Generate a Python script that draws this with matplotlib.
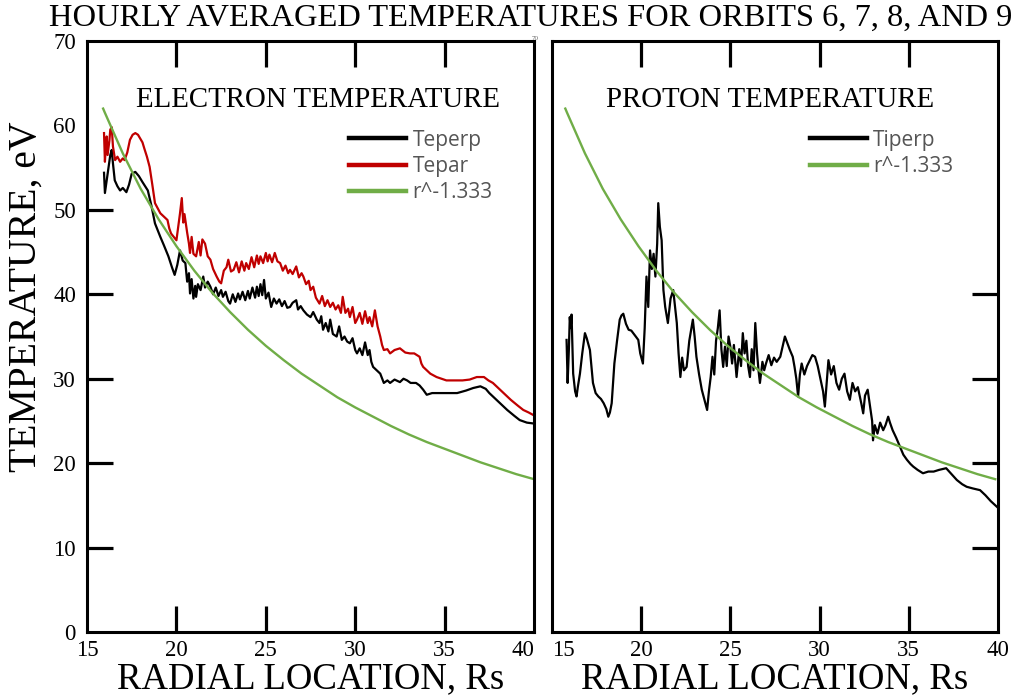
import matplotlib.pyplot as plt

# electron temperature, Teperp (black)
te_perp_r = [15.95, 16.0, 16.1, 16.2, 16.3, 16.38, 16.45, 16.55, 16.7, 16.85, 17.0, 17.2, 17.35, 17.5, 17.7,
             17.9, 18.1, 18.4, 18.6, 18.8, 19.1, 19.3, 19.55, 19.75, 19.9, 20.05, 20.2, 20.35, 20.5, 20.6,
             20.7, 20.76, 20.85, 20.95, 21.05, 21.1, 21.2, 21.35, 21.5, 21.6, 21.75, 21.9, 22.05, 22.2, 22.35,
             22.5, 22.6, 22.75, 22.9, 23.0, 23.15, 23.3, 23.45, 23.55, 23.7, 23.85, 24.0, 24.1, 24.25, 24.4,
             24.5, 24.6, 24.7, 24.8, 24.9, 25.0, 25.15, 25.3, 25.45, 25.6, 25.75, 25.9, 26.05, 26.2, 26.35,
             26.5, 26.7, 26.8, 26.95, 27.1, 27.3, 27.5, 27.65, 27.85, 28.0, 28.1, 28.2, 28.35, 28.5, 28.6,
             28.75, 28.96, 29.1, 29.25, 29.4, 29.55, 29.7, 29.85, 30.0, 30.1, 30.25, 30.4, 30.55, 30.7, 30.8,
             30.9, 31.0, 31.2, 31.4, 31.6, 31.8, 31.95, 32.2, 32.5, 32.7, 32.9, 33.1, 33.4, 33.6, 33.8,
             34.0, 34.3, 34.7, 35.2, 35.7, 36.2, 36.6, 37.0, 37.3, 37.5, 38.0, 38.5, 38.9, 39.2, 39.6, 39.96]
te_perp = [54.4, 52.0, 53.5, 55.0, 56.5, 57.1, 55.5, 53.5, 52.8, 52.3, 52.6, 52.1, 53.0, 54.3, 54.5,
           54.0, 53.3, 52.3, 50.5, 48.4, 46.8, 45.8, 44.5, 43.2, 42.3, 43.5, 45.2, 44.0, 43.7, 41.5,
           42.5, 40.1, 41.8, 39.5, 41.0, 39.7, 41.2, 40.5, 42.1, 40.8, 41.5, 40.9, 40.0, 40.8, 39.8,
           40.5, 39.7, 40.3, 39.2, 38.9, 40.0, 39.1, 40.1, 39.4, 40.3, 39.3, 40.4, 39.5, 40.8, 39.6,
           40.9, 39.8, 41.2, 39.9, 41.7, 39.5, 40.2, 38.5, 39.5, 38.9, 39.4, 38.6, 39.2, 38.4, 38.5,
           39.0, 39.3, 38.2, 38.6, 38.1, 37.6, 37.3, 37.9, 37.0, 36.6, 37.4, 35.8, 36.6, 35.6, 37.0,
           35.3, 35.0, 36.2, 34.6, 35.0, 34.4, 34.2, 34.8, 33.4, 33.0, 33.6, 32.8, 34.3, 32.8, 33.4,
           32.0, 31.4, 31.0, 30.6, 29.5, 29.8, 29.5, 29.9, 29.6, 30.0, 29.8, 29.5, 29.5, 29.2, 28.7,
           28.1, 28.3, 28.3, 28.3, 28.3, 28.6, 28.9, 29.1, 28.8, 28.3, 27.3, 26.3, 25.6, 25.1, 24.8, 24.7]

# electron temperature, Tepar (red)
te_par_r = [15.95, 16.0, 16.05, 16.1, 16.15, 16.25, 16.3, 16.38, 16.45, 16.57, 16.7, 16.85, 17.0, 17.1, 17.25,
            17.4, 17.55, 17.7, 17.85, 17.96, 18.1, 18.2, 18.35, 18.5, 18.65, 18.8, 18.95, 19.1, 19.3, 19.5,
            19.6, 19.7, 19.85, 20.0, 20.1, 20.2, 20.3, 20.38, 20.45, 20.6, 20.7, 20.76, 20.85, 20.95, 21.1,
            21.25, 21.35, 21.45, 21.6, 21.75, 21.9, 22.05, 22.25, 22.4, 22.5, 22.65, 22.8, 22.9, 23.05, 23.2,
            23.35, 23.5, 23.65, 23.8, 23.9, 24.05, 24.2, 24.35, 24.5, 24.6, 24.7, 24.85, 25.0, 25.1, 25.2,
            25.35, 25.5, 25.65, 25.8, 25.95, 26.1, 26.25, 26.35, 26.5, 26.7, 26.85, 27.0, 27.1, 27.25, 27.4,
            27.5, 27.65, 27.8, 28.0, 28.15, 28.3, 28.45, 28.6, 28.75, 28.9, 29.05, 29.2, 29.3, 29.45, 29.6,
            29.7, 29.85, 30.0, 30.1, 30.25, 30.4, 30.55, 30.7, 30.8, 30.95, 31.1, 31.25, 31.4, 31.5, 31.6,
            31.8, 31.95, 32.2, 32.5, 32.8, 33.06, 33.3, 33.6, 33.7, 33.8, 34.0, 34.2, 34.55, 35.1, 35.6,
            36.0, 36.4, 36.8, 37.2, 37.45, 37.7, 38.2, 38.7, 39.1, 39.4, 39.7, 39.96]
te_par = [59.1, 55.7, 57.5, 58.7, 56.5, 58.2, 59.5, 59.8, 57.5, 55.9, 56.3, 55.7, 56.1, 55.9, 56.8,
          58.3, 58.9, 59.1, 58.9, 58.5, 58.0, 57.3, 56.3, 55.1, 53.0, 50.8, 50.2, 49.6, 49.2, 48.8,
          47.8, 47.2, 46.8, 46.4, 48.0, 49.6, 51.4, 48.5, 49.5, 47.3, 46.0, 44.9, 46.8, 44.8, 44.5,
          46.2, 44.6, 46.5, 46.0, 44.5, 44.1, 43.0, 42.1, 41.5, 41.3, 42.8, 43.2, 44.1, 42.7, 42.9,
          43.8, 42.6, 43.9, 42.8, 43.7, 43.0, 44.4, 43.2, 44.6, 43.6, 44.5, 43.7, 44.9, 43.9, 44.7,
          43.8, 44.9, 43.9, 43.7, 42.8, 43.4, 42.5, 42.9, 42.4, 43.3, 42.0, 42.5, 42.1, 41.2, 41.6,
          40.5, 40.9, 39.6, 38.9, 39.8, 38.6, 39.3, 38.5, 39.0, 38.2, 38.7, 37.8, 39.7, 37.8, 38.3,
          37.3, 38.5, 36.6, 37.0, 37.8, 36.5, 38.0, 36.6, 37.3, 36.2, 38.1, 36.2, 35.0, 34.0, 33.4,
          33.5, 33.0, 33.4, 33.6, 33.1, 33.0, 33.0, 32.6, 31.8, 31.4, 31.0, 30.6, 30.2, 29.8, 29.8,
          29.8, 29.9, 30.2, 30.2, 29.8, 29.5, 28.5, 27.5, 26.8, 26.3, 26.0, 25.7]

# proton temperature, Tiperp (black)
ti_perp_r = [15.82, 15.88, 15.95, 16.0, 16.05, 16.1, 16.19, 16.3, 16.38, 16.45, 16.57, 16.7, 16.85, 16.95, 17.13,
             17.3, 17.45, 17.6, 17.75, 17.9, 18.05, 18.16, 18.25, 18.35, 18.5, 18.65, 18.8, 18.9, 19.0, 19.15,
             19.3, 19.45, 19.56, 19.7, 19.84, 19.95, 20.1, 20.2, 20.3, 20.4, 20.5, 20.6, 20.7, 20.8, 20.9,
             20.96, 21.05, 21.15, 21.25, 21.35, 21.5, 21.65, 21.8, 21.9, 22.0, 22.1, 22.2, 22.3, 22.4, 22.55,
             22.7, 22.9, 23.0, 23.1, 23.25, 23.4, 23.55, 23.7, 23.8, 23.9, 24.0, 24.1, 24.2, 24.3, 24.4,
             24.5, 24.6, 24.7, 24.8, 24.9, 25.0, 25.1, 25.2, 25.35, 25.5, 25.6, 25.7, 25.8, 25.9, 26.0,
             26.1, 26.2, 26.3, 26.4, 26.5, 26.58, 26.66, 26.8, 26.9, 27.0, 27.15, 27.3, 27.45, 27.6, 27.8,
             27.95, 28.06, 28.2, 28.34, 28.5, 28.6, 28.7, 28.8, 28.9, 29.0, 29.15, 29.3, 29.46, 29.6, 29.75,
             29.9, 30.05, 30.2, 30.3, 30.4, 30.5, 30.65, 30.8, 30.95, 31.1, 31.25, 31.4, 31.55, 31.7, 31.85,
             32.0, 32.15, 32.26, 32.35, 32.45, 32.55, 32.7, 32.85, 32.95, 33.0, 33.1, 33.25, 33.4, 33.57, 33.7,
             33.85, 33.95, 34.1, 34.3, 34.5, 34.7, 34.9, 35.1, 35.25, 35.5, 35.8, 36.1, 36.4, 36.7, 37.1,
             37.4, 37.7, 38.0, 38.25, 38.6, 39.0, 39.3, 39.6, 39.96]
ti_perp = [34.6, 29.5, 33.5, 37.3, 36.0, 37.6, 30.6, 28.5, 27.9, 29.0, 30.6, 33.0, 35.4, 34.8, 33.4,
           29.5, 28.3, 27.9, 27.6, 27.1, 26.4, 25.5, 26.0, 27.1, 31.8, 34.5, 37.0, 37.5, 37.7, 36.5,
           35.8, 35.7, 35.4, 35.0, 34.6, 33.0, 31.8, 36.0, 42.1, 38.5, 45.2, 43.0, 44.8, 42.1, 46.0,
           50.8, 48.0, 46.4, 40.5, 38.5, 36.6, 39.5, 40.5, 38.5, 36.6, 33.0, 30.2, 32.5, 31.0, 31.4,
           34.5, 37.0, 35.0, 32.6, 30.5, 28.7, 27.5, 26.3, 28.5, 30.2, 32.6, 30.5, 34.5, 36.0, 38.1,
           33.5, 31.4, 33.8, 31.5, 35.0, 33.8, 31.8, 34.0, 30.2, 33.5, 31.5, 35.4, 33.0, 34.5, 31.5,
           30.2, 33.5, 31.0, 36.6, 33.0, 31.0, 29.5, 32.0, 31.0, 31.8, 32.8, 31.6, 32.5, 32.0, 32.6,
           34.0, 35.0, 34.2, 33.4, 32.6, 31.4, 30.0, 27.9, 30.5, 31.8, 30.5, 31.5, 32.2, 32.8, 32.6,
           31.5, 30.0, 28.5, 26.7, 29.5, 32.2, 30.5, 31.5, 29.5, 28.7, 30.0, 30.6, 28.5, 27.5, 29.5,
           28.5, 29.0, 27.9, 27.0, 25.9, 28.0, 28.7, 26.5, 25.0, 22.7, 24.5, 23.5, 24.8, 23.9, 24.5,
           25.5, 24.8, 23.9, 23.0, 22.0, 21.0, 20.4, 19.9, 19.6, 19.2, 18.8, 19.0, 19.0, 19.2, 19.4,
           18.7, 18.0, 17.5, 17.2, 17.0, 16.8, 16.2, 15.5, 14.8]

# r^-1.333 reference curve
fit_r = [15.9, 16, 17, 18, 19, 20, 21, 22, 23, 24, 25, 26, 27, 28, 29, 30, 31, 32, 33, 34, 35, 36, 37, 38, 39, 40]
fit_t = [62.0, 61.5, 56.7, 52.5, 48.9, 45.7, 42.8, 40.2, 37.9, 35.8, 33.9, 32.2, 30.6, 29.2, 27.8, 26.6,
         25.5, 24.4, 23.4, 22.5, 21.7, 20.9, 20.1, 19.4, 18.7, 18.1]

xticks = [15, 20, 25, 30, 35, 40]
yticks = [0, 10, 20, 30, 40, 50, 60, 70]

serif = "Liberation Serif"
sans = "Open Sans"
green = "#70ad47"
red = "#c00000"

fig = plt.figure(figsize=(10.24, 6.96), dpi=100)
ax1 = fig.add_axes([0.085, 0.092, 0.4365, 0.849])
ax2 = fig.add_axes([0.539, 0.092, 0.4355, 0.849])

for ax in (ax1, ax2):
    ax.set_xlim(15, 40)
    ax.set_ylim(0, 70)
    for s in ax.spines.values():
        s.set_linewidth(2.2)
    ax.set_xticks(xticks)
    ax.set_xticklabels([str(v) for v in xticks], fontfamily=serif, fontsize=16.5)
    ax.tick_params(axis="x", direction="in", top=True, bottom=True, length=19, width=2.3, pad=6)
    # hide end ticks (they sit on the frame anyway)
    for t in ax.xaxis.get_major_ticks()[::5]:
        t.tick1line.set_visible(False)
        t.tick2line.set_visible(False)
    ax.set_xlabel("RADIAL LOCATION, Rs", fontfamily=serif, fontsize=26.5, labelpad=0)

# edge labels next to the gap between the panels lean inward
ax1.get_xticklabels()[-1].set_horizontalalignment("right")
ax2.get_xticklabels()[0].set_horizontalalignment("left")

# left panel: electron temperature
ax1.plot(te_perp_r, te_perp, color="black", lw=1.6, label="Teperp")
ax1.plot(te_par_r, te_par, color=red, lw=1.6, label="Tepar")
ax1.plot(fit_r, fit_t, color=green, lw=1.7, label="r^-1.333")
ax1.set_yticks(yticks)
ax1.set_yticklabels([str(v) for v in yticks], fontfamily=serif, fontsize=16.5)
ax1.tick_params(axis="y", direction="in", left=True, right=False, length=19, width=2.3, pad=8)
for t in ax1.yaxis.get_major_ticks():
    if t.get_loc() in (0, 60, 70):
        t.tick1line.set_visible(False)
ax1.set_ylabel("TEMPERATURE, eV", fontfamily=serif, fontsize=28.5)
ax1.yaxis.set_label_coords(-0.094, 0.567)
ax1.text(0.517, 0.90, "ELECTRON TEMPERATURE", transform=ax1.transAxes, ha="center", va="center",
         fontfamily=serif, fontsize=20.8)
leg1 = ax1.legend(loc="upper left", bbox_to_anchor=(0.586, 0.85), frameon=False, borderpad=0,
                  borderaxespad=0, handlelength=2.75, handletextpad=0.3, labelspacing=0.25,
                  prop={"family": sans, "size": 15})
for line in leg1.get_lines():
    line.set_linewidth(3.2)
for txt in leg1.get_texts():
    txt.set_color("#555555")

# right panel: proton temperature
ax2.plot(ti_perp_r, ti_perp, color="black", lw=1.6, label="Tiperp")
ax2.plot([r - 0.15 for r in fit_r], fit_t, color=green, lw=1.7, label="r^-1.333")
ax2.set_yticks([10, 20, 30, 40])
ax2.tick_params(axis="y", direction="in", left=False, right=True, labelleft=False,
                length=19, width=2.3)
ax2.text(0.489, 0.90, "PROTON TEMPERATURE", transform=ax2.transAxes, ha="center", va="center",
         fontfamily=serif, fontsize=20.8)
ax2.text(-0.038, 1.0, "70", transform=ax2.transAxes, ha="center", va="bottom",
         fontfamily=serif, fontsize=5, color="#666666")
leg2 = ax2.legend(loc="upper left", bbox_to_anchor=(0.578, 0.85), frameon=False, borderpad=0,
                  borderaxespad=0, handlelength=2.75, handletextpad=0.3, labelspacing=0.25,
                  prop={"family": sans, "size": 15})
for line in leg2.get_lines():
    line.set_linewidth(3.2)
for txt in leg2.get_texts():
    txt.set_color("#555555")

fig.text(0.518, 0.974, "HOURLY AVERAGED TEMPERATURES FOR ORBITS 6, 7, 8, AND 9", ha="center", va="center",
         fontfamily=serif, fontsize=23.4)

fig.savefig("out.png", dpi=100)
